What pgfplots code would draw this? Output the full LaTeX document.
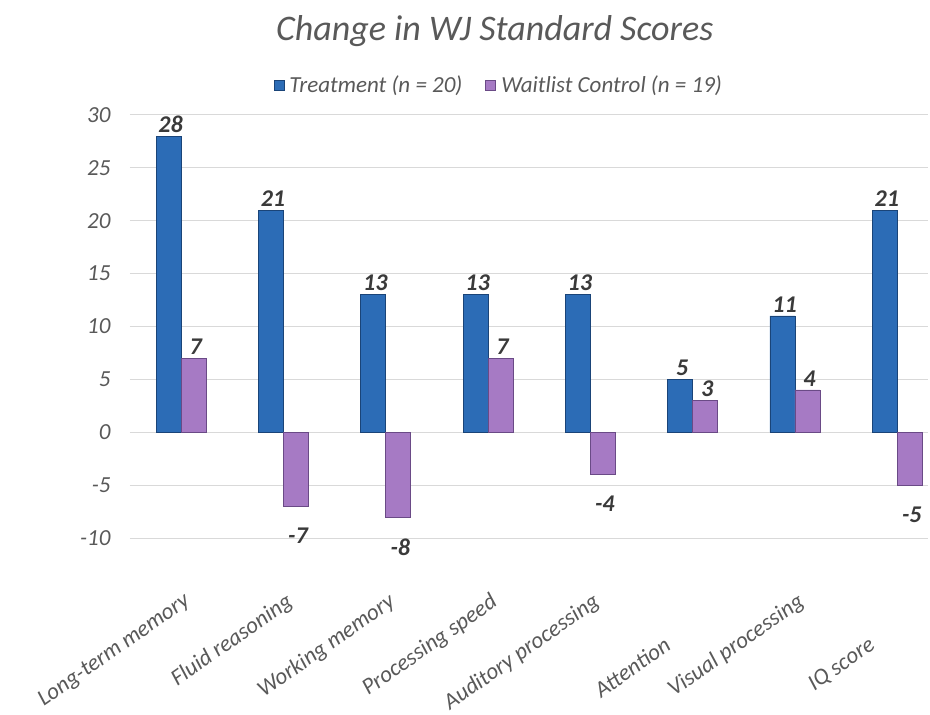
\documentclass[border=0pt]{standalone}
\usepackage{pgfplots}
\pgfplotsset{compat=1.18}
\usepackage{fontspec}
\setmainfont{Carlito}
\definecolor{tblue}{HTML}{2C6CB6}
\definecolor{tbluedk}{HTML}{1A4478}
\definecolor{tpurp}{HTML}{A67AC4}
\definecolor{tpurpdk}{HTML}{6A4A86}
\definecolor{txtgray}{HTML}{595959}
\definecolor{lblgray}{HTML}{3A3A3A}
\definecolor{gridgray}{HTML}{D9D9D9}
\begin{document}
\begin{tikzpicture}
\path[use as bounding box] (-130pt,-177pt) rectangle (800pt,538pt);
\begin{axis}[
  at={(0pt,0pt)}, anchor=south west,
  scale only axis,
  width=798pt, height=423pt,
  ybar=0pt, bar width=25pt,
  xmin=-0.5, xmax=7.3,
  ymin=-10, ymax=30,
  ytick={-10,-5,0,5,10,15,20,25,30},
  xtick={0,1,2,3,4,6},
  xticklabels={Long-term memory, Fluid reasoning, Working memory, Processing speed, Auditory processing, Visual processing},
  extra x ticks={5,7},
  extra x tick labels={Attention, IQ score},
  extra x tick style={grid=none, tick label style={xshift=-31pt, yshift=-44pt}},
  xticklabel style={yshift=-49pt, xshift=2pt, rotate=35, anchor=north east, font=\fontsize{23}{26}\selectfont\itshape, text=txtgray},
  major tick length=0pt,
  axis line style={draw=none},
  ymajorgrids, grid style={gridgray, line width=1pt},
  /pgf/number format/assume math mode=true,
  yticklabel style={font=\fontsize{23}{26}\selectfont\itshape, text=txtgray, xshift=-16pt},
  title={Change in WJ Standard Scores},
  title style={at={(0.457,1)}, anchor=center, yshift=78pt, font=\fontsize{36}{40}\selectfont\itshape, text=txtgray},
  legend style={at={(0.464,1)}, anchor=center, yshift=30pt, draw=none, fill=none,
    legend columns=2, font=\fontsize{23}{26}\selectfont\itshape, text=txtgray,
    nodes={inner xsep=5pt},
    /tikz/every even column/.append style={column sep=18pt}},
  legend image code/.code={\draw[#1, line width=0.8pt] (0pt,-5pt) rectangle (10pt,5pt);},
  nodes near coords,
  visualization depends on={y \as \rawy},
  every node near coord/.append style={font=\fontsize{24}{27}\selectfont\bfseries\itshape, text=lblgray, yshift={(\rawy<0)*(-18)}, xshift=2pt},
  clip=false,
]
\addplot[draw=tbluedk, line width=0.7pt, fill=tblue] coordinates {
 (0,28) (1,21) (2,13) (3,13) (4,13) (5,5) (6,11) (7,21)};
\addplot[draw=tpurpdk, line width=0.7pt, fill=tpurp] coordinates {
 (0,7) (1,-7) (2,-8) (3,7) (4,-4) (5,3) (6,4) (7,-5)};
\legend{Treatment (n = 20), Waitlist Control (n = 19)}
\end{axis}
\end{tikzpicture}
\end{document}
